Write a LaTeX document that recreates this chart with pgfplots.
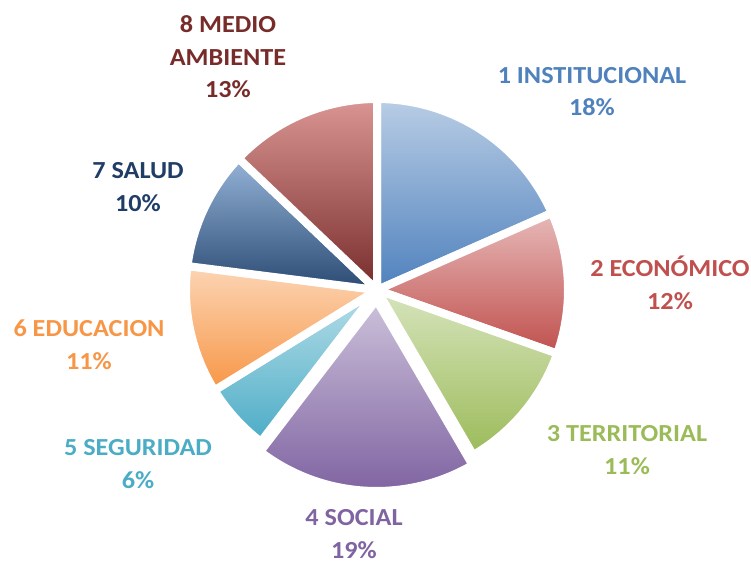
\documentclass[border=0pt]{standalone}
\usepackage{pgfplots}
\pgfplotsset{compat=1.18}
\usepackage{fontspec}
\setmainfont{Carlito}[FakeStretch=1.07]
\definecolor{cA}{HTML}{4F81BD}\definecolor{cAt}{HTML}{B9CDE5}
\definecolor{cB}{HTML}{C0504D}\definecolor{cBt}{HTML}{E6B9B8}
\definecolor{cC}{HTML}{9BBB59}\definecolor{cCt}{HTML}{D7E4BD}
\definecolor{cD}{HTML}{8064A2}\definecolor{cDt}{HTML}{CCC1DA}
\definecolor{cE}{HTML}{4BACC6}\definecolor{cEt}{HTML}{B7DEE8}
\definecolor{cF}{HTML}{F79646}\definecolor{cFt}{HTML}{FCD5B5}
\definecolor{cG}{HTML}{2A4A73}\definecolor{cGt}{HTML}{95B3D7}
\definecolor{cH}{HTML}{772C2A}\definecolor{cHt}{HTML}{DA9694}
\definecolor{tG}{HTML}{1F3D66}
\tikzset{lbl/.style={align=center, font=\fontsize{24.5}{32.5}\selectfont\bfseries}}
% slice values (percent)
\def\vA{18.4}\def\vB{12.0}\def\vC{11.2}\def\vD{18.8}
\def\vE{5.8}\def\vF{10.8}\def\vG{10.1}\def\vH{12.9}
\newcommand\pieslice[5]{% #1 cumulative start, #2 value, #3 top, #4 bottom, #5 explode
  \pgfmathsetmacro\angA{90-3.6*#1}%
  \pgfmathsetmacro\angB{90-3.6*(#1+#2)}%
  \pgfmathsetmacro\angM{(\angA+\angB)/2}%
  \pgfmathsetmacro\ox{377+#5*cos(\angM)}%
  \pgfmathsetmacro\oy{270+#5*sin(\angM)}%
  \edef\temp{\noexpand\addplot[top color=#3,bottom color=#4,draw=white,line width=8pt,line join=round,domain=\angB:\angA,samples=80]
    ({\ox+191*cos(x)},{\oy+191*sin(x)}) -- (axis cs:\ox,\oy) -- cycle;}%
  \temp
}
\begin{document}
\begin{tikzpicture}
\begin{axis}[hide axis, x=1pt, y=1pt, xmin=0, xmax=751, ymin=0, ymax=560, clip=false]
\addplot[draw=none] coordinates {(0,0) (751,560)};
\pgfmathsetmacro\cA{0}
\pgfmathsetmacro\cB{\cA+\vA}
\pgfmathsetmacro\cC{\cB+\vB}
\pgfmathsetmacro\cD{\cC+\vC}
\pgfmathsetmacro\cE{\cD+\vD}
\pgfmathsetmacro\cF{\cE+\vE}
\pgfmathsetmacro\cG{\cF+\vF}
\pgfmathsetmacro\cH{\cG+\vG}
\pieslice{\cA}{\vA}{cAt}{cA}{0}
\pieslice{\cB}{\vB}{cBt}{cB}{0}
\pieslice{\cC}{\vC}{cCt}{cC}{0}
\pieslice{\cD}{\vD}{cDt}{cD}{10}
\pieslice{\cE}{\vE}{cEt}{cE}{0}
\pieslice{\cF}{\vF}{cFt}{cF}{0}
\pieslice{\cG}{\vG}{cGt}{cG}{0}
\pieslice{\cH}{\vH}{cHt}{cH}{0}
\node[lbl,text=cA] at (axis cs:592,468.5) {1 INSTITUCIONAL\\18\%};
\node[lbl,text=cB] at (axis cs:670,277) {2 ECONÓMICO\\12\%};
\node[lbl,text=cC] at (axis cs:627,110) {3 TERRITORIAL\\11\%};
\node[lbl,text=cD] at (axis cs:354,26) {4 SOCIAL\\19\%};
\node[lbl,text=cE] at (axis cs:138,96) {5 SEGURIDAD\\6\%};
\node[lbl,text=cF] at (axis cs:89,215.5) {6 EDUCACION\\11\%};
\node[lbl,text=tG] at (axis cs:138,373) {7 SALUD\\10\%};
\node[lbl,text=cH] at (axis cs:228,503) {8 MEDIO\\AMBIENTE\\13\%};
\end{axis}
\pgfresetboundingbox
\useasboundingbox (current axis.south west) rectangle (current axis.north east);
\end{tikzpicture}
\end{document}
